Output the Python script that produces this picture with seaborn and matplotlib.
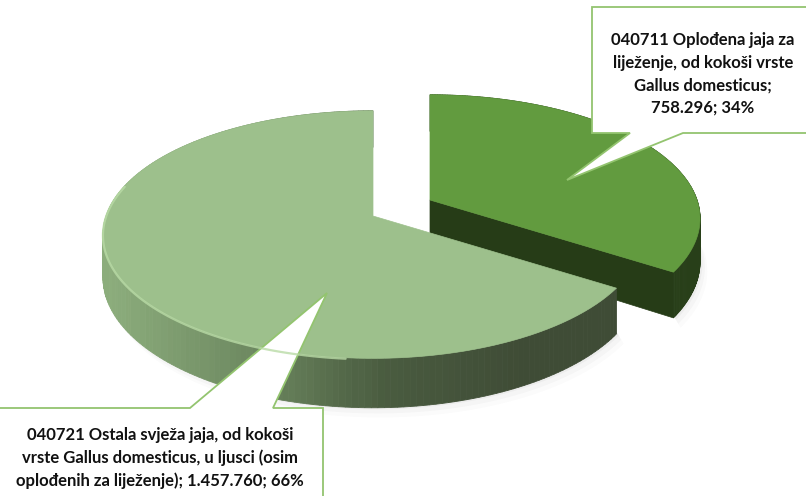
import numpy as np
import matplotlib
matplotlib.use("Agg")
import matplotlib.pyplot as plt
from matplotlib.patches import Polygon
import seaborn as sns

# podaci
labels = ["040711 Oplođena jaja za\nliježenje, od kokoši vrste\nGallus domesticus;",
          "040721 Ostala svježa jaja, od kokoši\nvrste Gallus domesticus, u ljusci (osim\noplođenih za liježenje);"]
values = [758296, 1457760]
value_txt = ["758.296", "1.457.760"]

sns.set_theme(style="white")
plt.rcParams["font.family"] = ["Lato", "DejaVu Sans"]

fracs = np.array(values) / sum(values)
edges = np.concatenate([[0], np.cumsum(fracs)]) * 360.0

# geometrija "3D" tortnog grafikona (pikseli)
R, RY, P, H = 267, 121, 0.15, 42
centers = [(430, 200), (373, 216)]
top_cols = ["#629b3f", "#9dc08c"]


def pt(theta, c, depth=0.0):
    t = np.radians(theta)
    u, v = np.sin(t), -np.cos(t)
    s = 1.0 / (1.0 - P * v)
    return c[0] + R * u * s, c[1] + RY * v * s + depth * s


def arc(a0, a1, c, depth=0.0, n=120):
    th = np.linspace(a0, a1, n)
    return np.array([pt(t, c, depth) for t in th])


fig = plt.figure(figsize=(8.06, 4.96), dpi=100)
ax = fig.add_axes([0, 0, 1, 1])
ax.set_xlim(0, 806)
ax.set_ylim(496, 0)
ax.axis("off")

# meka sjena ispod prednjeg ruba
for i, c in enumerate(centers):
    a0, a1 = max(edges[i], 90), min(edges[i + 1], 275)
    b = arc(a0, a1, c, H - 2)
    for k, al in [(12, 0.025), (8, 0.035), (4, 0.05)]:
        sh = np.vstack([b, (b + [k * 0.6, k])[::-1]])
        ax.add_patch(Polygon(sh, closed=True, fc="#555555", ec="none", alpha=al))

light_side = sns.blend_palette(["#8cad7c", "#6f8b62", "#4a5c40", "#3f4c36"], 60)

for i, c in enumerate(centers):
    a0, a1 = edges[i], edges[i + 1]
    # vanjski zid
    th = np.linspace(a0, a1, 200)
    for t0, t1 in zip(th[:-1], th[1:]):
        q = [pt(t0, c), pt(t1, c), pt(t1, c, H), pt(t0, c, H)]
        if i == 0:
            col = "#283f19"
        else:
            xm = (q[0][0] - 105) / (520 - 105)
            col = light_side[int(np.clip(xm, 0, 1) * 59)]
        ax.add_patch(Polygon(q, closed=True, fc=col, ec=col, lw=0.6))
    # rezna ploha (vidljiva samo kod prvog isječka)
    if i == 0:
        q = [c, pt(a1, c), pt(a1, c, H), (c[0], c[1] + H)]
        ax.add_patch(Polygon(q, closed=True, fc="#263c17", ec="#263c17", lw=0.5))
    # gornja ploha
    top = np.vstack([[c], arc(a0, a1, c)])
    ax.add_patch(Polygon(top, closed=True, fc=top_cols[i], ec=top_cols[i], lw=0.5))
    if i == 1:
        rim = arc(185, 285, c)
        ax.plot(rim[:, 0], rim[:, 1] + 1, color="#b9dba6", lw=1.6, alpha=0.8)

# oblačići s oznakama
box_ec = "#93c46f"
ax.add_patch(Polygon([(592, 7), (812, 7), (812, 133), (683, 133), (567, 180),
                      (630, 133), (592, 133)], closed=True, fc="white", ec=box_ec, lw=1.3))
ax.add_patch(Polygon([(-5, 408), (190, 408), (327, 293), (273, 408), (323, 408),
                      (323, 505), (-5, 505)], closed=True, fc="white", ec=box_ec, lw=1.3))

ax.text(703, 74, labels[0] + "\n" + f"{value_txt[0]}; {fracs[0] * 100:.0f}%",
        ha="center", va="center", ma="center", fontsize=12, fontweight="bold",
        color="#111111", linespacing=1.5)
ax.text(160, 458, labels[1] + f" {value_txt[1]}; {fracs[1] * 100:.0f}%",
        ha="center", va="center", ma="center", fontsize=12, fontweight="bold",
        color="#111111", linespacing=1.5)

fig.savefig("out.png", dpi=100, facecolor="white")
